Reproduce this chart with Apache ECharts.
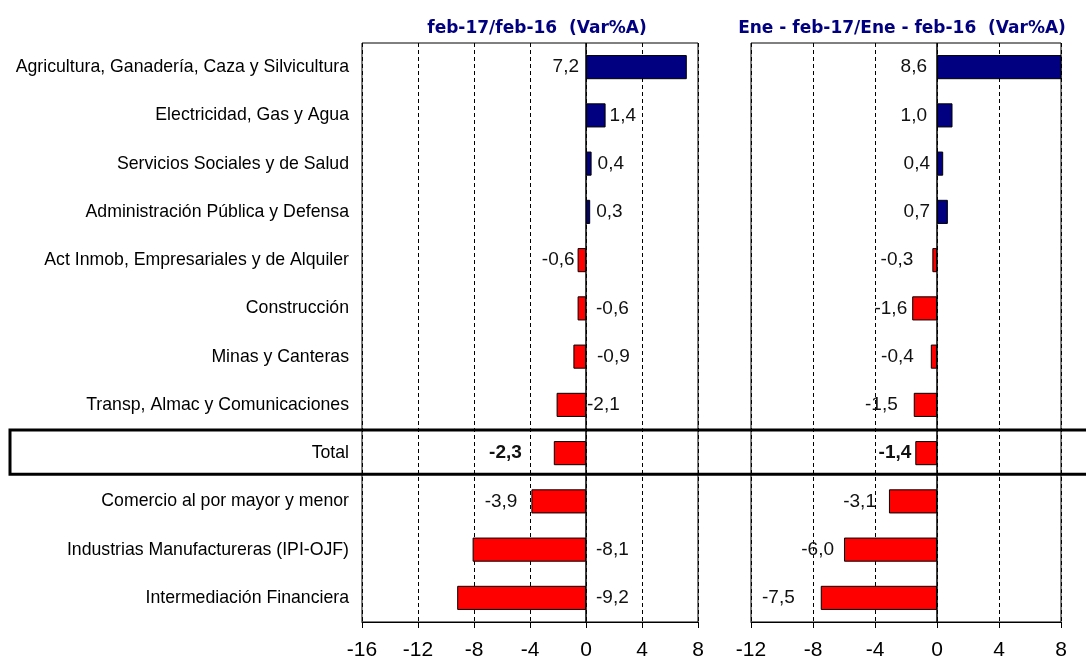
<!DOCTYPE html>
<html><head><meta charset="utf-8">
<script src="https://cdn.jsdelivr.net/npm/echarts@6/dist/echarts.min.js"></script>
<style>html,body{margin:0;padding:0;background:#fff}#c{width:1086px;height:662px}</style>
</head><body><div id="c"></div>
<script>
const categories = ["Agricultura, Ganadería, Caza y Silvicultura","Electricidad, Gas y Agua","Servicios Sociales y de Salud","Administración Pública y Defensa","Act Inmob, Empresariales y de Alquiler","Construcción","Minas y Canteras","Transp, Almac y Comunicaciones","Total","Comercio al por mayor y menor","Industrias Manufactureras (IPI-OJF)","Intermediación Financiera"];
const monthValues = [7.2, 1.4, 0.4, 0.3, -0.6, -0.6, -0.9, -2.1, -2.3, -3.9, -8.1, -9.2];
const ytdValues = [8.6, 1.0, 0.4, 0.7, -0.3, -1.6, -0.4, -1.5, -1.4, -3.1, -6.0, -7.5];
const titles = ["feb-17/feb-16  (Var%A)", "Ene - feb-17/Ene - feb-16  (Var%A)"];
const leftTicks = [-16, -12, -8, -4, 0, 4, 8];
const rightTicks = [-12, -8, -4, 0, 4, 8];

// label placement (style only)
const monthLabelSide = ['left','right','right','right','left','right','right','right','left','left','right','right'];
const monthLabelGap = [7, 4, 6, 6, 3, 10, 11, 1, 32, 14, 10, 10];
const ytdLabelSide = categories.map(() => 'left');
const ytdLabelGap = [10, 10, 7, 7, 19, 5, 17, 16, 4, 13, 10, 26];

const fmt = v => v.toFixed(1).replace('.', ',');
const chart = echarts.init(document.getElementById('c'));

function barData(vals, sides, gaps) {
  return vals.map((v, i) => ({
    value: v,
    itemStyle: { color: v >= 0 ? '#000080' : '#ff0000' },
    label: { position: sides[i], distance: gaps[i], fontWeight: categories[i] === 'Total' ? 'bold' : 'normal' }
  }));
}

function xAxisCfg(gi, ticks) {
  return {
    type: 'value', gridIndex: gi, min: ticks[0], max: ticks[ticks.length - 1], interval: 4,
    axisLine: { show: true, onZero: false, lineStyle: { color: '#000', width: 1 } },
    axisTick: { show: true, length: 6, lineStyle: { color: '#000' } },
    axisLabel: { color: '#000', fontSize: 21, fontFamily: 'Liberation Sans', margin: 18 },
    splitLine: { show: true, lineStyle: { color: '#000', type: [4, 3], width: 1 } }
  };
}

const zeroLine = {
  silent: true, symbol: 'none', label: { show: false },
  lineStyle: { color: '#000', type: 'solid', width: 1.5 },
  data: [{ xAxis: 0 }]
};

const labelBase = { show: true, color: '#111', fontSize: 19, fontFamily: 'Liberation Sans',
  formatter: p => fmt(p.value) };

const option = {
  animation: false,
  backgroundColor: '#fff',
  title: [
    { text: titles[0], left: 532, top: 15, textAlign: 'center',
      textStyle: { color: '#000080', fontSize: 17, fontWeight: 'bold', fontFamily: 'DejaVu Sans' } },
    { text: titles[1], left: 897, top: 15, textAlign: 'center',
      textStyle: { color: '#000080', fontSize: 17, fontWeight: 'bold', fontFamily: 'DejaVu Sans' } }
  ],
  grid: [
    { left: 362, right: 388, top: 43, bottom: 40, show: true, borderColor: '#000', borderWidth: 1 },
    { left: 751, right: 25, top: 43, bottom: 40, show: true, borderColor: '#000', borderWidth: 1 }
  ],
  xAxis: [xAxisCfg(0, leftTicks), xAxisCfg(1, rightTicks)],
  yAxis: [
    { type: 'category', gridIndex: 0, data: categories, inverse: true, position: 'left',
      axisLine: { show: false }, axisTick: { show: false },
      axisLabel: { color: '#000', fontSize: 17.7, fontFamily: 'Liberation Sans', margin: 13 } },
    { type: 'category', gridIndex: 1, data: categories, inverse: true, position: 'left',
      axisLine: { show: false }, axisTick: { show: false },
      axisLabel: { show: false } }
  ],
  series: [
    { type: 'bar', xAxisIndex: 0, yAxisIndex: 0, data: barData(monthValues, monthLabelSide, monthLabelGap),
      barWidth: '50%', itemStyle: { borderColor: '#000', borderWidth: 1 },
      label: labelBase, markLine: zeroLine },
    { type: 'bar', xAxisIndex: 1, yAxisIndex: 1, data: barData(ytdValues, ytdLabelSide, ytdLabelGap),
      barWidth: '50%', itemStyle: { borderColor: '#000', borderWidth: 1 },
      label: labelBase, markLine: zeroLine }
  ]
};
chart.setOption(option);

// Box around the "Total" row
const yc = chart.convertToPixel({ yAxisIndex: 0 }, 'Total');
const band = chart.getModel().getComponent('yAxis', 0).axis.getBandWidth();
chart.setOption({
  graphic: [{
    type: 'rect', silent: true, z: 100,
    shape: { x: 10, y: yc - band / 2 + 1, width: 1090, height: band - 4 },
    style: { fill: 'none', stroke: '#000', lineWidth: 3 }
  }]
});
</script></body></html>
